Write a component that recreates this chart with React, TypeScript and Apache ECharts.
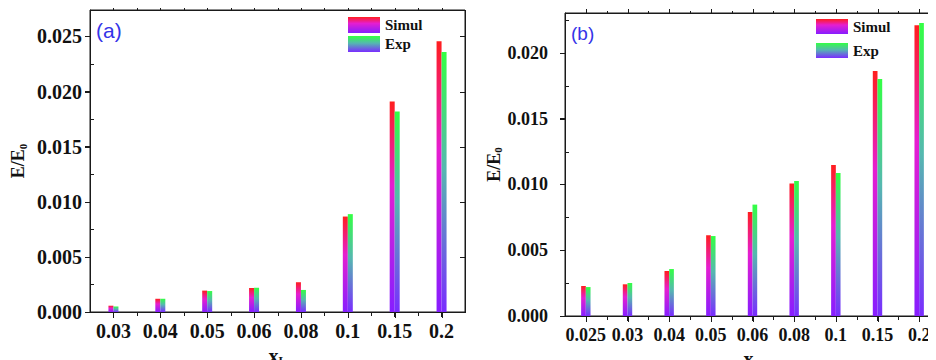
import React, { useEffect, useRef } from "react";
import * as echarts from "echarts";

const catsA = ["0.03", "0.04", "0.05", "0.06", "0.08", "0.1", "0.15", "0.2"];
const simulA = [0.00057, 0.0012, 0.00194, 0.00218, 0.0027, 0.00866, 0.0191, 0.02457];
const expA = [0.0005, 0.0012, 0.0019, 0.0022, 0.002, 0.00888, 0.0182, 0.0236];

const catsB = ["0.025", "0.03", "0.04", "0.05", "0.06", "0.08", "0.1", "0.15", "0.2"];
const simulB = [0.00228, 0.00241, 0.00342, 0.00614, 0.00791, 0.01007, 0.01148, 0.01863, 0.0221];
const expB = [0.0022, 0.00251, 0.00357, 0.00608, 0.00847, 0.01027, 0.01087, 0.01802, 0.02228];

const seriesNames = ["Simul", "Exp"];
const maxA = 0.0274;
const maxB = 0.02304;
const step = 0.005;

const SERIF = "Liberation Serif, Times New Roman, serif";
const SANS = "Liberation Sans, Arial, sans-serif";
const AX = "#1a1a1a";

const gridA = { left: 90, top: 10, width: 375, height: 302 };
const gridB = { left: 565, top: 13, width: 375, height: 303 };

function gradSimul() {
  return new echarts.graphic.LinearGradient(0, 0, 0, 1, [
    { offset: 0, color: "#ff1e1e" }, { offset: 0.4, color: "#e61ed0" }, { offset: 1, color: "#861eff" },
  ]);
}
function gradExp() {
  return new echarts.graphic.LinearGradient(0, 0, 0, 1, [
    { offset: 0, color: "#33ff44" }, { offset: 0.45, color: "#55b8b0" }, { offset: 1, color: "#7a2cff" },
  ]);
}

function xAxis(gi: number, cats: string[], fs: number, margin: number, nameGap: number) {
  return {
    type: "category", gridIndex: gi, data: cats, boundaryGap: true, position: "bottom",
    axisLine: { show: true, onZero: false, lineStyle: { color: AX } },
    axisTick: { show: true, alignWithLabel: true, interval: 0, length: 5, lineStyle: { color: AX } },
    axisLabel: { interval: 0, margin, color: "#111", fontFamily: SERIF, fontWeight: "bold", fontSize: fs },
    name: "{m|x}{s|L}", nameLocation: "middle", nameGap,
    nameTextStyle: { fontFamily: SERIF, fontWeight: "bold", color: "#111", verticalAlign: "top",
      rich: { m: { fontFamily: SERIF, fontWeight: "bold", fontSize: 20, color: "#111" },
              s: { fontFamily: SERIF, fontWeight: "bold", fontSize: 12, color: "#111", padding: [10, 0, 0, 0] } } },
  };
}

function yAxis(gi: number, max: number, fs: number, margin: number, nameGap: number) {
  return {
    type: "value", gridIndex: gi, position: "left", min: 0, max, interval: step,
    splitLine: { show: false },
    axisLine: { show: true, onZero: false, lineStyle: { color: AX } },
    axisTick: { show: true, length: 5, lineStyle: { color: AX } },
    minorTick: { show: false },
    axisLabel: { margin, showMaxLabel: false, color: "#111", fontFamily: SERIF, fontWeight: "bold", fontSize: fs,
      formatter: (v: number) => v.toFixed(3) },
    name: "{m|E/E}{s|0}", nameLocation: "middle", nameRotate: 90, nameGap,
    nameTextStyle: { fontFamily: SERIF, fontWeight: "bold", color: "#111",
      rich: { m: { fontFamily: SERIF, fontWeight: "bold", fontSize: 18, color: "#111" },
              s: { fontFamily: SERIF, fontWeight: "bold", fontSize: 11, color: "#111", padding: [9, 0, 0, 0] } } },
  };
}

function bars(idx: number, simul: number[], exp: number[], bw: number) {
  return [
    { name: seriesNames[0], type: "bar", xAxisIndex: idx, yAxisIndex: idx, data: simul, barWidth: bw, barGap: "0%", itemStyle: { color: gradSimul() } },
    { name: seriesNames[1], type: "bar", xAxisIndex: idx, yAxisIndex: idx, data: exp, barWidth: bw, barGap: "0%", itemStyle: { color: gradExp() } },
  ];
}

function legend(left: number, top: number, h: number, gap: number) {
  return { left, top, orient: "vertical", padding: 0, itemWidth: 32, itemHeight: h, itemGap: gap, icon: "rect",
    selectedMode: false, data: seriesNames, textStyle: { fontFamily: SERIF, fontWeight: "bold", fontSize: 15, color: "#111" } };
}

// frame and tick marks (layout only) drawn as thin filled rects from the grid geometry
function frame(g: { left: number; top: number; width: number; height: number }, n: number, max: number) {
  const L = g.left, T = g.top, R = g.left + g.width, B = g.top + g.height;
  const bw = g.width / n;
  const py = (v: number) => Math.round(B - (v / max) * g.height);
  const els: any[] = [];
  const rect = (x: number, y: number, w: number, h: number) => ({
    type: "rect", silent: true, z: 100, shape: { x, y, width: w, height: h }, style: { fill: AX },
  });
  els.push(rect(L, T, R - L + 1, 1));
  els.push(rect(L, B, R - L + 1, 1));
  els.push(rect(L, T, 1, B - T + 1));
  els.push(rect(R, T, 1, B - T + 1));
  for (let i = 0; i < n; i++) {
    const c = Math.round(L + bw * (i + 0.5));
    els.push(rect(c, B + 1, 1, 5));
    els.push(rect(c, T - 4, 1, 4));
  }
  for (let i = 1; i < n; i++) {
    const b = Math.round(L + bw * i);
    els.push(rect(b, B + 1, 1, 3));
    els.push(rect(b, T - 2, 1, 2));
  }
  const nMaj = Math.floor(max / step + 1e-9);
  for (let k = 0; k <= nMaj; k++) {
    const y = py(k * step);
    els.push(rect(L - 5, y, 5, 1));
    els.push(rect(R - 5, y, 5, 1));
  }
  for (let k = 0; k <= nMaj; k++) {
    const v = k * step + step / 2;
    if (v >= max) break;
    els.push(rect(L + 1, py(v), 3, 1));
  }
  return els;
}

export default function App() {
  const ref = useRef<HTMLDivElement>(null);
  useEffect(() => {
    if (!ref.current) return;
    const chart = echarts.init(ref.current, null, { renderer: "svg" });
    const texts = [
      { type: "text", left: 96, top: 20, style: { text: "(a)", fontFamily: SANS, fontSize: 21, fill: "#3434e8" } },
      { type: "text", left: 571, top: 24, style: { text: "(b)", fontFamily: SANS, fontSize: 19, fill: "#3434e8" } },
    ];
    const option: any = {
      animation: false,
      grid: [
        { ...gridA, outerBoundsMode: "none", containLabel: false, show: true, borderColor: AX, borderWidth: 1 },
        { ...gridB, outerBoundsMode: "none", containLabel: false, show: true, borderColor: AX, borderWidth: 1 },
      ],
      xAxis: [xAxis(0, catsA, 20, 9, 24), xAxis(1, catsB, 18, 10, 19)],
      yAxis: [yAxis(0, maxA, 20, 8, 62), yAxis(1, maxB, 18, 17, 60)],
      legend: [legend(348, 17, 16, 3), legend(816, 19, 15, 9)],
      series: [...bars(0, simulA, expA, 5), ...bars(1, simulB, expB, 4.7)],
      graphic: {
        elements: [...texts, ...frame(gridA, catsA.length, maxA), ...frame(gridB, catsB.length, maxB)],
      },
    };
    chart.setOption(option);
    return () => chart.dispose();
  }, []);
  return <div ref={ref} style={{ width: 936, height: 360, marginLeft: -8, marginTop: -8 }} />;
}
